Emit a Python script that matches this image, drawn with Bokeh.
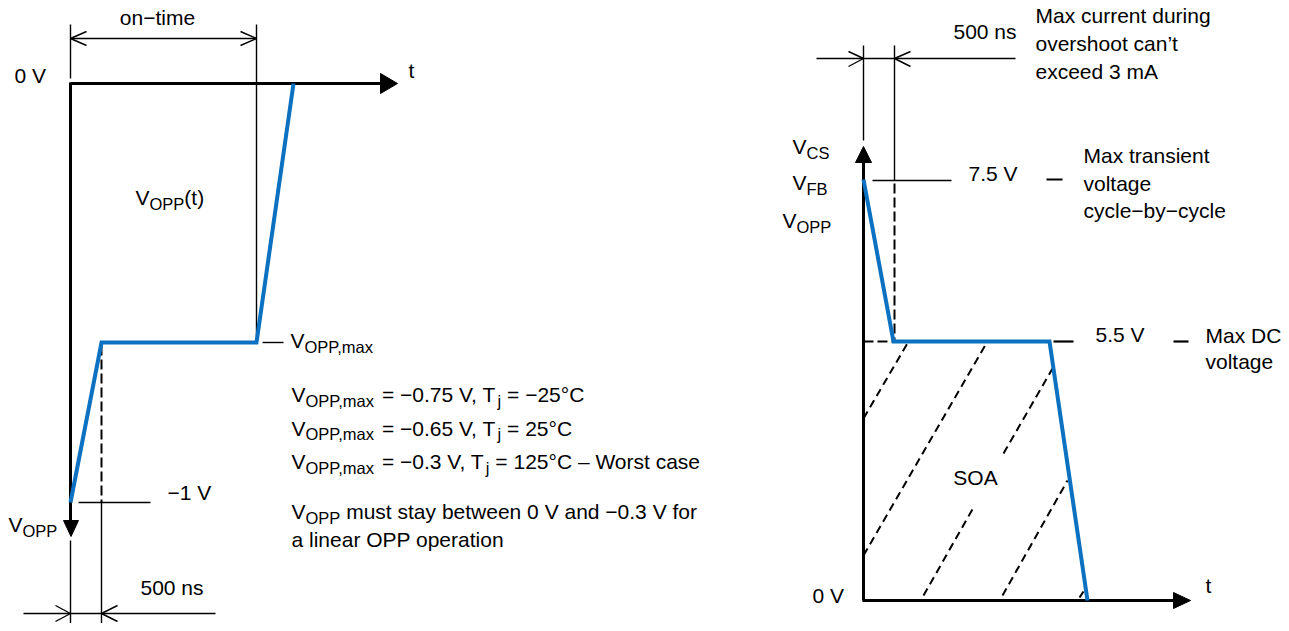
from bokeh.plotting import figure
from bokeh.models import Range1d, ColumnDataSource
from bokeh.core.properties import value
from bokeh.embed import file_html
from bokeh.resources import INLINE

FONT = "Liberation Sans"
BLUE = "#0b71c0"
MAIN = 21.0
SUB = 16.5
SUB_DY = 4.5
BASE_SHIFT = -8.0  # baseline correction per 21px of font size

# ---------------- data (diagram units: x to the right, y downward) ----------------
# Left panel: V_OPP(t) waveform
opp_wave_x = [70, 101, 256, 293]
opp_wave_y = [502, 342, 342, 83]
# Right panel: V_CS / V_FB / V_OPP waveform
cs_wave_x = [863, 893, 1049, 1087]
cs_wave_y = [179, 341, 341, 600]
# SOA hatching (dashed diagonals)
soa_x0 = [863, 863, 923, 1003, 1002, 1079]
soa_y0 = [418, 555, 595, 453, 595, 597]
soa_x1 = [908, 987, 973, 1052, 1067, 1083]
soa_y1 = [341, 341, 507, 368, 480, 591]
# level / duration labels
left_levels = ["0 V", "\u22121 V"]
right_levels = ["0 V", "5.5 V", "7.5 V"]
durations = ["on\u2212time", "500 ns", "500 ns"]
vopp_max_cases = [("\u22120.75 V", "\u221225\u00b0C", ""),
                  ("\u22120.65 V", "25\u00b0C", ""),
                  ("\u22120.3 V", "125\u00b0C", " \u2013 Worst case")]

# ---------------- text helpers ----------------
W = {' ': 278, '(': 333, ')': 333, ',': 278, '-': 333, '.': 278, '=': 584,
     'A': 667, 'B': 667, 'C': 722, 'D': 722, 'F': 611, 'M': 833, 'O': 778, 'P': 667,
     'S': 667, 'T': 611, 'V': 667, 'W': 944,
     'a': 556, 'b': 556, 'c': 500, 'd': 556, 'e': 556, 'f': 278, 'g': 556, 'h': 556,
     'i': 222, 'j': 222, 'k': 500, 'l': 222, 'm': 833, 'n': 556, 'o': 556, 'p': 556,
     'r': 333, 's': 500, 't': 278, 'u': 556, 'v': 500, 'w': 722, 'x': 500, 'y': 500,
     '\u00b0': 400, '\u2212': 584, '\u2013': 556, '\u2019': 222}


def tw(s, size):
    return sum(W.get(c, 556) for c in s) * size / 1000.0


rows = {"x": [], "y": [], "text": [], "size": []}


def rich(x, y, runs):
    for s, sub in runs:
        size = SUB if sub else MAIN
        lead = len(s) - len(s.lstrip(' '))
        x += tw(' ' * lead, size)
        s = s.lstrip(' ')
        rows["x"].append(x)
        rows["y"].append(y + (SUB_DY if sub else 0) + BASE_SHIFT * size / MAIN)
        rows["text"].append(s)
        rows["size"].append(f"{size}px")
        x += tw(s, size)


def plain(x, y, s):
    rich(x, y, [(s, False)])


def centered(cx, y, s):
    plain(cx - tw(s, MAIN) / 2, y, s)


# ---------------- figure ----------------
p = figure(width=1281, height=623, x_range=Range1d(0, 1281), y_range=Range1d(623, 0),
           toolbar_location=None, output_backend="svg", min_border=0,
           x_axis_location=None, y_axis_location=None)
p.grid.visible = False
p.outline_line_color = None
p.background_fill_color = "white"
p.border_fill_color = "white"

# thin dimension / reference lines
thin_xs = [
    [70, 70], [256, 256], [70, 256], [86, 70, 86], [240, 256, 240],
    [262, 283], [78, 150], [70, 70], [101, 101], [23, 215],
    [55, 70, 55], [117, 101, 117],
    [863, 863], [894, 894], [816, 1015], [848, 863, 848], [910, 894, 910],
    [872, 951],
]
thin_ys = [
    [24, 78], [24, 342], [38, 38], [31, 38, 45], [31, 38, 45],
    [342, 342], [502, 502], [540, 631], [502, 631], [613, 613],
    [605, 613, 621], [605, 613, 621],
    [45, 140], [45, 180], [58, 58], [51, 58, 66], [51, 58, 66],
    [180, 180],
]
p.multi_line(thin_xs, thin_ys, line_color="black", line_width=1.4)

# short legend ticks
p.multi_line([[1046, 1062], [1173, 1188], [1053, 1073]], [[179, 179], [341, 341], [341, 341]],
             line_color="black", line_width=2.2)

# axes (thick)
p.multi_line([[70, 70], [70, 381], [863, 863], [862, 1174]],
             [[82, 521], [83, 83], [162, 600], [600, 600]],
             line_color="black", line_width=3)
p.patches([[63, 78, 70.5], [380, 380, 397], [855, 871, 863], [1173, 1173, 1190]],
          [[520, 520, 536], [73, 93, 83], [162, 162, 146], [592, 608, 600]],
          fill_color="black", line_color="black", line_width=1)

# dashed references
p.multi_line([[101, 101], [894, 894], [863, 893]], [[345, 502], [183, 341], [341, 341]],
             line_color="black", line_width=2, line_dash="10 4")

# SOA hatching
p.multi_line([[a, b] for a, b in zip(soa_x0, soa_x1)],
             [[a, b] for a, b in zip(soa_y0, soa_y1)],
             line_color="black", line_width=2, line_dash="8 5")

# waveforms
p.line(opp_wave_x, opp_wave_y, line_color=BLUE, line_width=4, line_join="miter")
p.line(cs_wave_x, cs_wave_y, line_color=BLUE, line_width=4, line_join="miter")

# ---------------- texts ----------------
# left panel
plain(14, 83, left_levels[0])
plain(408, 78, "t")
centered(157, 25, durations[0])
rich(135, 205, [("V", False), ("OPP", True), ("(t)", False)])
rich(290, 348, [("V", False), ("OPP,max", True)])
for i, (vv, tj, extra) in enumerate(vopp_max_cases):
    rich(291, 402 + 33.5 * i, [("V", False), ("OPP,max", True), (" = " + vv + ", T", False),
                               ("j", True), (" = " + tj + extra, False)])
rich(291, 519, [("V", False), ("OPP", True), (" must stay between 0 V and \u22120.3 V for", False)])
plain(291, 547, "a linear OPP operation")
plain(167, 500, left_levels[1])
rich(8, 532, [("V", False), ("OPP", True)])
plain(140, 595, durations[1])

# right panel
plain(953, 39, durations[2])
for i, s in enumerate(["Max current during", "overshoot can\u2019t", "exceed 3 mA"]):
    plain(1035, 23 + 28 * i, s)
rich(792, 154, [("V", False), ("CS", True)])
rich(792, 190, [("V", False), ("FB", True)])
rich(782, 228, [("V", False), ("OPP", True)])
plain(968, 181, right_levels[2])
for i, s in enumerate(["Max transient", "voltage", "cycle\u2212by\u2212cycle"]):
    plain(1083, 163 + 27.5 * i, s)
centered(975, 485, "SOA")
plain(1095, 342, right_levels[1])
plain(1205, 343, "Max DC")
plain(1205, 369, "voltage")
plain(1205, 593, "t")
plain(812, 603, right_levels[0])

src = ColumnDataSource(rows)
p.text(x="x", y="y", text="text", text_font_size="size", source=src,
       text_font=value(FONT), text_baseline="alphabetic", text_align="left",
       text_color="black")

open("out.html", "w").write(file_html(p, INLINE))
